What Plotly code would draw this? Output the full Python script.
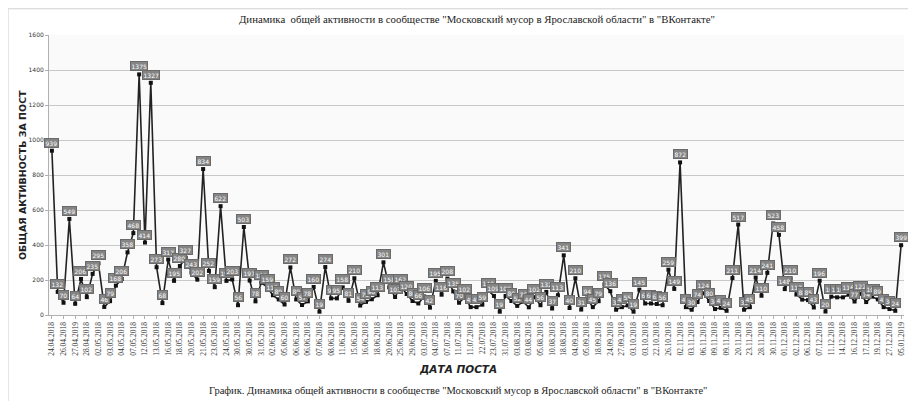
import plotly.graph_objects as go

values = [939, 132, 70, 549, 64, 206, 102, 235, 295, 46,
          79, 168, 206, 358, 468, 1375, 414, 1327, 273, 68,
          317, 195, 280, 327, 243, 202, 834, 252, 159, 622,
          195, 203, 56, 503, 197, 78, 185, 159, 113, 89,
          60, 272, 89, 57, 78, 160, 19, 274, 95, 95,
          158, 81, 210, 54, 75, 90, 113, 301, 158, 103,
          162, 120, 80, 66, 106, 42, 195, 116, 208, 135,
          70, 102, 45, 45, 59, 140, 109, 19, 109, 80,
          52, 76, 44, 102, 56, 132, 37, 113, 341, 40,
          210, 31, 94, 45, 79, 175, 136, 30, 45, 55,
          19, 145, 66, 66, 63, 56, 259, 149, 872, 45,
          30, 74, 124, 80, 34, 41, 24, 211, 517, 30,
          45, 214, 110, 241, 523, 458, 148, 210, 117, 88,
          85, 43, 196, 20, 105, 101, 101, 116, 77, 122,
          74, 105, 89, 45, 34, 24, 399]

tick_labels = ["24.04.2018", "26.04.2018", "27.04.2019", "28.04.2018", "02.05.2018",
               "03.05.2018", "04.05.2018", "07.05.2018", "12.05.2018", "13.05.2018",
               "16.05.2018", "18.05.2018", "20.05.2018", "21.05.2018", "23.05.2018",
               "24.05.2018", "30.05.2018", "30.05.2018", "31.05.2018", "02.06.2018",
               "05.06.2018", "06.06.2018", "06.06.2018", "07.06.2018", "08.06.2018",
               "11.06.2018", "15.06.2018", "16.06.2018", "18.06.2018", "20.06.2018",
               "25.06.2018", "29.06.2018", "03.07.2018", "04.07.2018", "07.07.2018",
               "11.07.2018", "11.07.2018", "22.072018", "23.07.2018", "31.07.2018",
               "03.08.2018", "03.08.2018", "05.08.2018", "10.08.2018", "18.08.2018",
               "04.09.2018", "05.09.2018", "18.09.2018", "24.09.2018", "27.09.2018",
               "03.10.2018", "03.10.2018", "22.10.2018", "26.10.2018", "02.11.2018",
               "03.11.2018", "06.11.2018", "09.11.2018", "09.11.2018", "20.11.2018",
               "23.11.2018", "28.11.2018", "30.11.2018", "01.12.2018", "02.12.2018",
               "06.12.2018", "07.12.2018", "11.12.2018", "14.12.2018", "16.12.2018",
               "17.12.2018", "19.12.2018", "27.12.2018", "05.01.2019"]

y_ticks = [0, 200, 400, 600, 800, 1000, 1200, 1400, 1600]

title = 'Динамика  общей активности в сообществе "Московский мусор в Ярославской области" в "ВКонтакте"'
caption = 'График. Динамика общей активности в сообществе "Московский мусор в Ярославской области" в "ВКонтакте"'
y_title = "ОБЩАЯ АКТИВНОСТЬ ЗА ПОСТ"
x_title = "ДАТА ПОСТА"

x = list(range(len(values)))
tick_pos = list(range(0, len(values), 2))[:len(tick_labels)]

fig = go.Figure()
fig.add_trace(go.Scatter(
    x=x, y=values, mode="lines+markers",
    line=dict(color="#222222", width=1.6),
    marker=dict(symbol="square", size=4, color="#111111"),
    showlegend=False, hoverinfo="x+y",
))

annotations = []
for xi, v in zip(x, values):
    annotations.append(dict(
        x=xi, y=v, xref="x", yref="y", text=str(v), showarrow=False,
        yshift=8, font=dict(family="DejaVu Sans", size=6, color="white"),
        bgcolor="#858585", bordercolor="#6a6a6a", borderwidth=1, borderpad=0.5,
    ))

annotations.append(dict(text=title, x=0.5, y=1.0, xref="paper", yref="paper",
                        yanchor="bottom", yshift=8, showarrow=False,
                        font=dict(family="Liberation Serif", size=10.8, color="#222")))
annotations.append(dict(text=caption, xref="paper", yref="paper", x=0.478, y=0,
                        yanchor="middle", yshift=-75, showarrow=False,
                        font=dict(family="Liberation Serif", size=10.5, color="#222")))
annotations.append(dict(text="<b><i>" + x_title + "</i></b>", xref="paper", yref="paper",
                        x=0.478, y=0, yanchor="middle", yshift=-54, showarrow=False,
                        font=dict(family="DejaVu Sans", size=10.5, color="#222")))
annotations.append(dict(text="<b>" + y_title + "</b>", xref="paper", yref="paper",
                        x=0, xshift=-27, y=0.5, xanchor="center", yanchor="middle",
                        textangle=-90, showarrow=False,
                        font=dict(family="DejaVu Sans", size=9.5, color="#222")))

fig.update_layout(
    width=908, height=393,
    margin=dict(l=41.4, r=12.4, t=26.7, b=86.3, autoexpand=False),
    paper_bgcolor="white", plot_bgcolor="#fafafa",
    annotations=annotations,
    shapes=[dict(type="rect", xref="paper", yref="paper",
                 x0=-0.0479, x1=1.2, y0=-0.5, y1=1.0936,
                 line=dict(color="#d0d0d0", width=1), fillcolor="rgba(0,0,0,0)", layer="below")],
    xaxis=dict(range=[-0.5, len(values) - 0.5], tickmode="array",
               tickvals=tick_pos, ticktext=tick_labels, tickangle=-90,
               tickfont=dict(family="Liberation Serif", size=7.5, color="#333"),
               showgrid=False, zeroline=False, showline=True, linecolor="#b0b0b0",
               ticks="outside", ticklen=3, tickcolor="#b0b0b0", automargin=False),
    yaxis=dict(range=[0, 1600], tickmode="array", tickvals=y_ticks,
               tickfont=dict(family="DejaVu Sans", size=6, color="#333"),
               showgrid=True, gridcolor="#c8c8c8", gridwidth=1.3, zeroline=False,
               showline=True, linecolor="#b0b0b0", ticks="outside", ticklen=3,
               tickcolor="#b0b0b0", automargin=False),
)

fig.write_html("out.html")
